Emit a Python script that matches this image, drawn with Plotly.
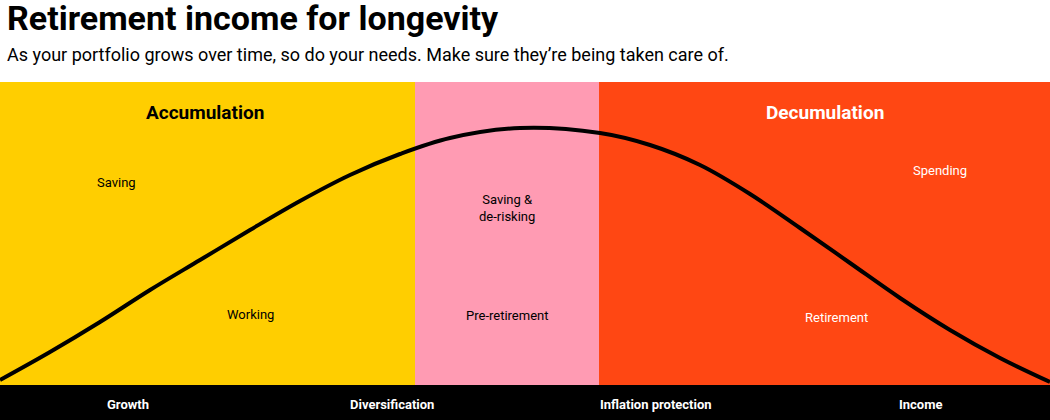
import plotly.graph_objects as go

# Data
band_edges = [0, 415, 599, 1050]
band_colors = ["#FFCE00", "#FF9BB3", "#FF4713"]
curve_x = [0, 50, 100, 150, 200, 250, 300, 350, 400, 450, 520, 600, 650, 700, 750, 800, 850, 900, 950, 1000, 1050]
curve_y = [40, 68, 98, 130, 160, 190, 219, 245, 266, 282, 292, 287, 275, 255, 226, 192, 157, 122, 90, 62, 38]
phase_labels = ["Working", "Pre-retirement", "Retirement"]
phase_x = [250, 507, 836]
need_labels = ["Saving", "Saving &<br>de-risking", "Spending"]
need_x = [116, 507, 940]
need_y = [238, 212, 250]
bottom_labels = ["Growth", "Diversification", "Inflation protection", "Income"]
bottom_x = [128, 392, 656, 920]

F = "Roboto"
fig = go.Figure()
shapes = []
for i, c in enumerate(band_colors):
    shapes.append(dict(type="rect", xref="x", yref="y", x0=band_edges[i], x1=band_edges[i+1],
                       y0=35, y1=338, fillcolor=c, line_width=0, layer="below"))
shapes.append(dict(type="rect", xref="x", yref="y", x0=0, x1=1050, y0=0, y1=35,
                   fillcolor="black", line_width=0, layer="below"))

fig.add_trace(go.Scatter(x=curve_x, y=curve_y, mode="lines", line=dict(color="black", width=4, shape="spline"),
                         hoverinfo="skip", showlegend=False))

ann = []
ann.append(dict(x=205, y=308, text="<b>Accumulation</b>", font=dict(color="black", size=19, family=F)))
ann.append(dict(x=825, y=308, text="<b>Decumulation</b>", font=dict(color="white", size=19, family=F)))
colors_txt = ["black", "black", "white"]
for i in range(3):
    ann.append(dict(x=phase_x[i], y=[106, 105, 103][i], text=phase_labels[i], font=dict(color=colors_txt[i], size=13, family=F)))
    ann.append(dict(x=need_x[i], y=need_y[i], text=need_labels[i], font=dict(color=colors_txt[i], size=13, family=F)))
for lbl, x in zip(bottom_labels, bottom_x):
    ann.append(dict(x=x, y=16, text="<b>" + lbl + "</b>", font=dict(color="white", size=13, family=F)))
for a in ann:
    a.update(xref="x", yref="y", showarrow=False)
ann.append(dict(xref="paper", yref="paper", x=0.005, y=1.189, xanchor="left", yanchor="middle", showarrow=False,
                text="<b>Retirement income for longevity</b>", font=dict(size=34, color="black", family=F)))
ann.append(dict(xref="paper", yref="paper", x=0.005, y=1.080, xanchor="left", yanchor="middle", showarrow=False,
                text="As your portfolio grows over time, so do your needs. Make sure they’re being taken care of.",
                font=dict(size=18, color="black", family=F)))

fig.update_layout(width=1050, height=420, margin=dict(l=0, r=0, t=82, b=0),
                  paper_bgcolor="white", plot_bgcolor="white", shapes=shapes, annotations=ann,
                  xaxis=dict(range=[0, 1050], visible=False, fixedrange=True),
                  yaxis=dict(range=[0, 338], visible=False, fixedrange=True))
fig.write_html("out.html", config={"displayModeBar": False},
               post_script="document.body.style.margin='0';document.body.style.overflow='hidden';")
